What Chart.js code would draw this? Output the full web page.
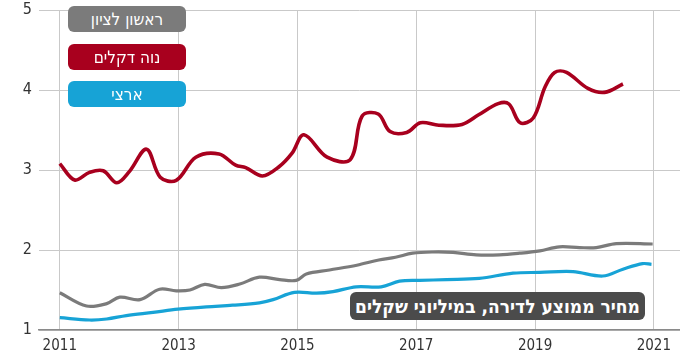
<!DOCTYPE html>
<html><head><meta charset="utf-8">
<script src="https://cdn.jsdelivr.net/npm/chart.js@4/dist/chart.umd.min.js"></script>
<style>
html,body{margin:0;padding:0;background:#fff;}
#wrap{position:relative;width:680px;height:359px;}
canvas{position:absolute;left:0;top:0;}
.tag{position:absolute;direction:rtl;color:#fff;text-align:center;font-family:"Liberation Sans Narrow","DejaVu Sans Condensed","Open Sans",sans-serif;}
.leg{left:68px;width:118px;height:26px;line-height:26px;border-radius:6px;font-size:17px;}
#note{left:350px;top:292px;width:295px;height:28px;line-height:28px;border-radius:6px;background:#4b4b4b;font-size:19px;font-weight:bold;}
</style></head>
<body><div id="wrap"><canvas id="c" width="680" height="359"></canvas>
<div class="tag leg" id="l1" style="top:6px;background:#7b7b7b">ראשון לציון</div>
<div class="tag leg" id="l2" style="top:44px;background:#a8001e">נוה דקלים</div>
<div class="tag leg" id="l3" style="top:81px;background:#17a3d6">ארצי</div>
<div class="tag" id="note">מחיר ממוצע לדירה, במיליוני שקלים</div>
</div>
<script>
const seriesNames = ["ראשון לציון","נוה דקלים","ארצי"];
const xTicks = [2011,2013,2015,2017,2019,2021];
const yTicks = [1,2,3,4,5];

const redYears = [2011.0,2011.25,2011.5,2011.73,2011.96,2012.17,2012.46,2012.69,2012.96,2013.29,2013.68,2013.96,2014.13,2014.41,2014.69,2014.91,2015.11,2015.5,2015.89,2016.09,2016.36,2016.56,2016.84,2017.07,2017.38,2017.77,2018.05,2018.38,2018.56,2018.75,2018.97,2019.17,2019.33,2019.53,2019.89,2020.17,2020.48];
const redValues = [3.08,2.875,2.97,2.99,2.84,2.98,3.26,2.91,2.87,3.16,3.20,3.06,3.03,2.925,3.04,3.21,3.44,3.16,3.13,3.675,3.70,3.48,3.47,3.59,3.56,3.57,3.69,3.83,3.825,3.59,3.65,4.04,4.22,4.22,4.02,3.97,4.075];

const grayYears = [2011.0,2011.45,2011.79,2012.01,2012.35,2012.68,2012.96,2013.19,2013.44,2013.72,2014.03,2014.36,2014.70,2014.98,2015.15,2015.54,2016.0,2016.37,2016.65,2016.94,2017.28,2017.62,2018.01,2018.40,2018.74,2019.08,2019.41,2019.75,2020.03,2020.37,2020.98];
const grayValues = [1.466,1.30,1.33,1.41,1.38,1.51,1.49,1.50,1.57,1.53,1.575,1.66,1.63,1.62,1.70,1.75,1.81,1.875,1.91,1.96,1.975,1.97,1.94,1.94,1.96,1.99,2.04,2.03,2.03,2.08,2.075];

const blueYears = [2011.0,2011.5,2011.79,2012.12,2012.57,2012.99,2013.47,2013.91,2014.36,2014.59,2014.95,2015.32,2015.60,2015.99,2016.41,2016.72,2017.06,2017.51,2018.06,2018.63,2019.08,2019.64,2020.14,2020.48,2020.81,2020.96];
const blueValues = [1.154,1.125,1.1375,1.18,1.22,1.26,1.29,1.31,1.34,1.38,1.47,1.46,1.48,1.54,1.54,1.61,1.62,1.63,1.645,1.71,1.72,1.73,1.675,1.76,1.83,1.82];

function pts(xs, ys){ return xs.map((x,i)=>({x:x,y:ys[i]})); }
const FONT = '"Liberation Sans Narrow","DejaVu Sans Condensed","Open Sans",sans-serif';

new Chart(document.getElementById('c'), {
  type:'line',
  data:{datasets:[
    {label:seriesNames[0],data:pts(grayYears,grayValues),borderColor:'#7b7b7b',borderWidth:3.2,tension:0.35,pointRadius:0},
    {label:seriesNames[1],data:pts(redYears,redValues),borderColor:'#a8001e',borderWidth:3.6,tension:0.35,pointRadius:0},
    {label:seriesNames[2],data:pts(blueYears,blueValues),borderColor:'#17a3d6',borderWidth:3.2,tension:0.35,pointRadius:0}
  ]},
  options:{
    responsive:false,animation:false,
    layout:{padding:{top:10,right:0,left:0,bottom:0}},
    plugins:{legend:{display:false},tooltip:{enabled:false}},
    scales:{
      x:{type:'linear',min:2010.65,max:2021.44,
        afterBuildTicks:(s)=>{s.ticks=xTicks.map(v=>({value:v}));},
        afterFit:(s)=>{s.height=29;s.paddingLeft=0;s.paddingRight=0;},
        grid:{color:'#c9c9c9',lineWidth:1,drawTicks:false},
        border:{color:'#8a8a8a',width:1.5},
        ticks:{padding:7,color:'#333',font:{family:FONT,size:15},callback:(v)=>String(v),maxRotation:0}
      },
      y:{min:1,max:5,
        afterBuildTicks:(s)=>{s.ticks=yTicks.map(v=>({value:v}));},
        afterFit:(s)=>{s.width=39;s.paddingTop=0;s.paddingBottom=0;},
        grid:{color:'#c9c9c9',lineWidth:1,drawTicks:false},
        border:{display:false},
        ticks:{padding:7,color:'#333',font:{family:FONT,size:16}}
      }
    }
  }
});
</script></body></html>
